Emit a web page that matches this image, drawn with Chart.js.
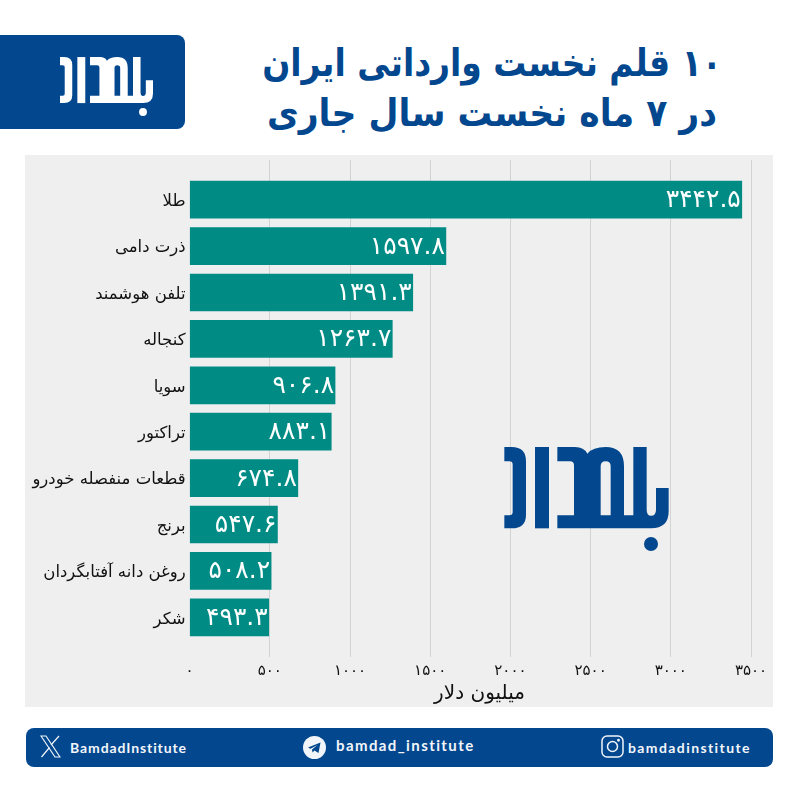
<!DOCTYPE html>
<html lang="fa">
<head>
<meta charset="utf-8">
<title>10 قلم نخست وارداتی ایران</title>
<script src="https://cdn.jsdelivr.net/npm/chart.js@4"></script>
<style>
  html, body { margin: 0; padding: 0; background: #fff; }
  body { position: relative; width: 800px; height: 800px; overflow: hidden; font-family: "DejaVu Sans", sans-serif; }
  .abs { position: absolute; }
  #logoBox { left: 0; top: 35px; width: 185px; height: 94px; background: #03478e; border-radius: 0 8px 8px 0; }
  .titleLine { left: 192px; width: 600px; text-align: center; direction: rtl; color: #03478e; font-weight: bold; font-size: 38px; line-height: 50px; white-space: nowrap; }
  #panel { left: 25px; top: 155px; width: 748px; height: 552px; background: #efefef; }
  #chartWrap { left: 25px; top: 155px; width: 748px; height: 552px; }
  #footer { left: 26px; top: 728px; width: 747px; height: 39px; background: #03478e; border-radius: 8px; }
  .handle { color: #f2f6fb; font-family: Lato, sans-serif; font-weight: 700; font-size: 14px; line-height: 39px; top: 728px; white-space: nowrap; }
</style>
</head>
<body>
<svg width="0" height="0" style="position:absolute">
  <symbol id="logo" viewBox="73 52 493 312">
    <path d="M73 52H95Q138 52 138 95V255Q138 296 95 296H73V257H88Q98 257 98 247V105Q98 95 88 95H73Z"/>
    <rect x="165" y="52" width="42" height="244"/>
    <path fill-rule="evenodd" d="M232 52H285Q312 52 322 72Q338 52 377 52Q432 52 432 110V257H460V52H500V240Q500 258 513 258Q528 258 528 240V175H566V245Q566 296 513 296H232V257H282V107Q282 95 270 95H232ZM362 257H392V110Q392 95 377 95Q362 95 362 110Z"/>
    <circle cx="513" cy="343" r="21"/>
  </symbol>
</svg>

<div id="logoBox" class="abs"></div>
<svg class="abs" style="left:60px;top:57px" width="93" height="59" fill="#fff"><use href="#logo"/></svg>
<div class="abs titleLine" style="top:38px;transform:scaleX(0.867)">۱۰ قلم نخست وارداتی ایران</div>
<div class="abs titleLine" style="top:88px;transform:scaleX(0.91)">در ۷ ماه نخست سال جاری</div>

<div id="panel" class="abs"></div>
<div id="chartWrap" class="abs"><canvas id="chart1"></canvas></div>
<svg class="abs" style="left:504px;top:447px" width="165" height="104" fill="#03478e"><use href="#logo"/></svg>

<div id="footer" class="abs"></div>
<svg class="abs" style="left:40px;top:735px" width="21" height="23" viewBox="0 0 21 23" fill="none" stroke="#f2f6fb" stroke-width="1.2">
  <path d="M1 1H6L20 22H15Z"/><path d="M19 1L11 10M9.5 12.5L1.5 22"/>
</svg>
<div class="abs handle" style="left:70px;letter-spacing:0.9px">BamdadInstitute</div>
<svg class="abs" style="left:303px;top:736px" width="23" height="23" viewBox="0 0 23 23">
  <circle cx="11.5" cy="11.5" r="11.5" fill="#f2f6fb"/>
  <path d="M5 11.5L17.5 6.5L15.5 17L11.5 14.5L9.5 16.5L9 13.5L14.5 9L7.5 12.8Z" fill="#03478e"/>
</svg>
<div class="abs handle" style="left:336px;font-size:15px;letter-spacing:1.4px;top:726px">bamdad_institute</div>
<svg class="abs" style="left:601px;top:735px" width="23" height="23" viewBox="0 0 23 23" fill="none" stroke="#f2f6fb" stroke-width="1.5">
  <rect x="1" y="1" width="21" height="21" rx="5"/><circle cx="11.5" cy="11.5" r="5"/><circle cx="17.5" cy="5.3" r="0.7"/>
</svg>
<div class="abs handle" style="left:628px;letter-spacing:1.4px">bamdadinstitute</div>

<script>
const categories = ['طلا', 'ذرت دامی', 'تلفن هوشمند', 'کنجاله', 'سویا', 'تراکتور', 'قطعات منفصله خودرو', 'برنج', 'روغن دانه آفتابگردان', 'شکر'];
const values = [3442.5, 1597.8, 1391.3, 1263.7, 906.8, 883.1, 674.8, 547.6, 508.2, 493.3];
const xTicks = [0, 500, 1000, 1500, 2000, 2500, 3000, 3500];

const fontName = '"DejaVu Sans", sans-serif';

// latin digits to persian ones
function fa(n) {
  return String(n).replace(/\d/g, d => '۰۱۲۳۴۵۶۷۸۹'[d]);
}

// writes the value inside the end of each bar
const barValues = {
  id: 'barValues',
  afterDatasetsDraw(chart) {
    const ctx = chart.ctx;
    const bars = chart.getDatasetMeta(0).data;
    ctx.save();
    ctx.fillStyle = '#fff';
    ctx.font = '25px ' + fontName;
    ctx.textAlign = 'right';
    ctx.textBaseline = 'middle';
    bars.forEach((bar, i) => {
      ctx.fillText(fa(values[i]), bar.x - 1, bar.y + 1);
    });
    ctx.restore();
  }
};

new Chart(document.getElementById('chart1'), {
  type: 'bar',
  data: {
    datasets: [{
      data: values.map((v, i) => ({ x: v, y: i })),
      backgroundColor: '#008c85',
      barThickness: 37
    }]
  },
  options: {
    indexAxis: 'y',
    responsive: true,
    maintainAspectRatio: false,
    animation: false,
    layout: { padding: { top: 5, right: 3.6, bottom: 0, left: 0 } },
    plugins: { legend: { display: false }, tooltip: { enabled: false }, title: { display: false } },
    scales: {
      x: {
        type: 'linear',
        min: 0,
        max: 3614.6,
        afterBuildTicks: scale => { scale.ticks = xTicks.map(v => ({ value: v })); },
        afterFit: scale => { scale.height = 50; scale.paddingRight = 0; scale.paddingLeft = 0; },
        border: { display: false },
        // no line at zero in the original
        grid: { color: c => c.tick && c.tick.value === 0 ? 'rgba(0,0,0,0)' : '#d3d3d3', lineWidth: 1, drawTicks: false },
        ticks: {
          padding: 5,
          maxRotation: 0,
          color: '#111',
          font: { family: fontName, size: 15 },
          callback: v => fa(v)
        },
        title: {
          display: true,
          text: 'میلیون دلار',
          color: '#111',
          font: { family: fontName, size: 20 },
          padding: { top: 0, bottom: 1 }
        }
      },
      y: {
        type: 'linear',
        reverse: true,
        offset: false,
        min: -0.855,
        max: 9.855,
        afterBuildTicks: scale => { scale.ticks = categories.map((c, i) => ({ value: i })); },
        afterFit: scale => { scale.width = 164.6; scale.paddingTop = 0; scale.paddingBottom = 0; },
        border: { display: false },
        grid: { display: false, offset: false, drawTicks: false },
        ticks: {
          padding: 4,
          labelOffset: 2,
          color: '#111',
          font: { family: fontName, size: 16.5 },
          callback: v => categories[v]
        }
      }
    }
  },
  plugins: [barValues]
});
</script>
</body>
</html>
